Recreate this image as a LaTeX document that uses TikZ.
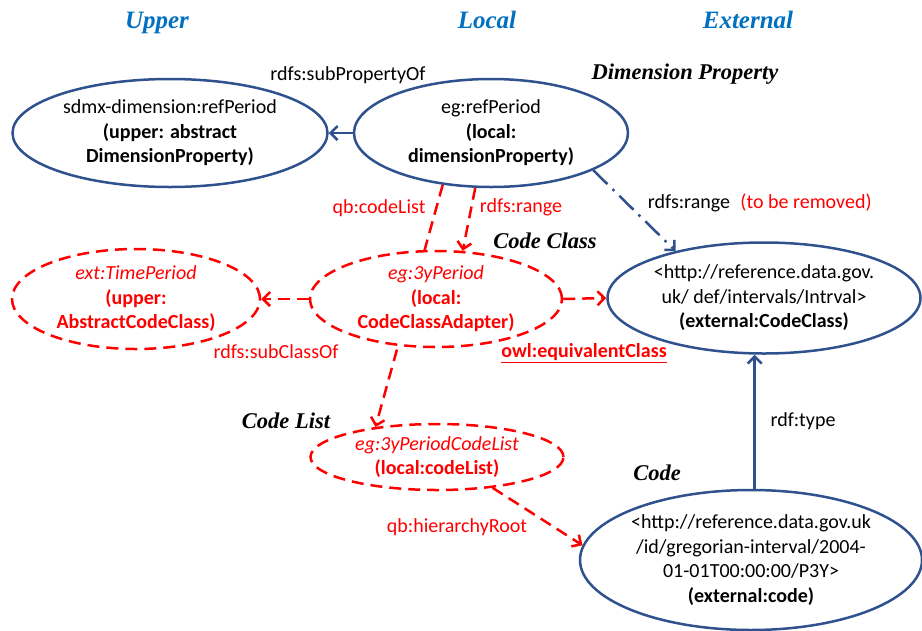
\documentclass[tikz,border=0pt]{standalone}
\usepackage{fontspec}
\setmainfont{Carlito}
\newfontfamily\partfont{Liberation Serif}
\usetikzlibrary{arrows.meta,shapes.geometric,backgrounds}
\definecolor{lineblue}{RGB}{47,82,143}
\definecolor{headblue}{RGB}{0,112,192}
\tikzset{
  barb/.style={-{Straight Barb[length=7pt,width=14pt,line width=2.5pt]}},
  blueell/.style={ellipse, draw=lineblue, line width=2.5pt, fill=white, inner sep=0pt, align=center,
    font=\fontsize{20}{24.5}\selectfont},
  redell/.style={ellipse, draw=red, line width=2.5pt, dash pattern=on 12pt off 7pt, fill=white,
    inner sep=0pt, align=center, text=red, font=\fontsize{20}{24.5}\selectfont},
  blueline/.style={draw=lineblue, line width=2.5pt, barb},
  redline/.style={draw=red, line width=2.5pt, dash pattern=on 12pt off 7pt, barb},
  heading/.style={anchor=base, text=headblue, font=\partfont\bfseries\itshape\fontsize{25}{28}\selectfont},
  part/.style={font=\partfont\bfseries\itshape\fontsize{22.5}{24}\selectfont},
  lbl/.style={font=\fontsize{20}{24}\selectfont}
}

\begin{document}
\begin{tikzpicture}[x=1pt,y=-1pt]
  \useasboundingbox (0,0) rectangle (922,630);

  % column headings
  \node[heading] (hupper) at (157,28) {Upper};
  \node[heading] (hlocal) at (487,28) {Local};
  \node[heading] (hext) at (748,28) {External};

  % ellipses
  \node[blueell, minimum width=315, minimum height=108] (sdmx) at (170,133)
    {sdmx-dimension:refPeriod\\\textbf{(upper: abstract}\\\textbf{DimensionProperty)}};
  \node[blueell, minimum width=274, minimum height=108] (refp) at (491,133)
    {eg:refPeriod\\\textbf{(local:}\\\textbf{dimensionProperty)}};
  \node[redell, minimum width=248, minimum height=100] (timep) at (136,299)
    {\textit{ext:TimePeriod}\\\textbf{(upper:}\\\textbf{AbstractCodeClass)}};
  \node[redell, minimum width=252, minimum height=96] (threey) at (436,299)
    {\textit{eg:3yPeriod}\\\textbf{(local:}\\\textbf{CodeClassAdapter)}};
  \node[blueell, minimum width=313, minimum height=111] (codeclass) at (764,298)
    {<http://reference.data.gov.\\uk/ def/intervals/Intrval>\\\textbf{(external:CodeClass)}};
  \node[redell, minimum width=253, minimum height=66] (codelist) at (437,457)
    {\textit{eg:3yPeriodCodeList}\\\textbf{(local:codeList)}};
  \node[blueell, minimum width=342, minimum height=140] (code) at (751,560)
    {<http://reference.data.gov.uk\\/id/gregorian-interval/2004-\\01-01T00:00:00/P3Y>\\\textbf{(external:code)}};

  % part names
  \node[part] (pdim) at (685,74) {Dimension Property};
  \node[part] (pclass) at (545,241) {Code Class};
  \node[part] (plist) at (286,421) {Code List};
  \node[part] (pcode) at (657,473) {Code};

  % connectors
  \draw[blueline] (refp.west) -- (sdmx.east);
  \begin{scope}[on background layer]
    \draw[redline] (refp.227) -- (codelist.154);
  \end{scope}
  \draw[redline] (refp.254) -- (threey.61);
  \draw[redline] (threey.west) -- (timep.east);
  \draw[redline] (threey.east) -- (codeclass.west);
  \draw[blueline, dash pattern=on 20pt off 7pt on 2.5pt off 7pt] (refp.340) -- (codeclass.152);
  \draw[blueline] (code.87) -- (code.87 |- codeclass.south);
  \draw[redline] (codelist.331) -- (code.175);

  % connector labels
  \node[lbl] (lsubprop) at (348,75) {rdfs:subPropertyOf};
  \node[lbl, text=red] (lcodelist) at (379,208) {qb:codeList};
  \node[lbl, text=red] (lrange) at (521,207) {rdfs:range};
  \node[lbl] (lrangeb) at (689,203) {rdfs:range};
  \node[lbl, text=red] (lremoved) at (806,203) {(to be removed)};
  \node[lbl, text=red] (lsubclass) at (276,352) {rdfs:subClassOf};
  \node[lbl, text=red] (lequiv) at (584,353) {\textbf{\underline{owl:equivalentClass}}};
  \node[lbl] (ltype) at (803,421) {rdf:type};
  \node[lbl, text=red] (lroot) at (457,527) {qb:hierarchyRoot};
\end{tikzpicture}
\end{document}
